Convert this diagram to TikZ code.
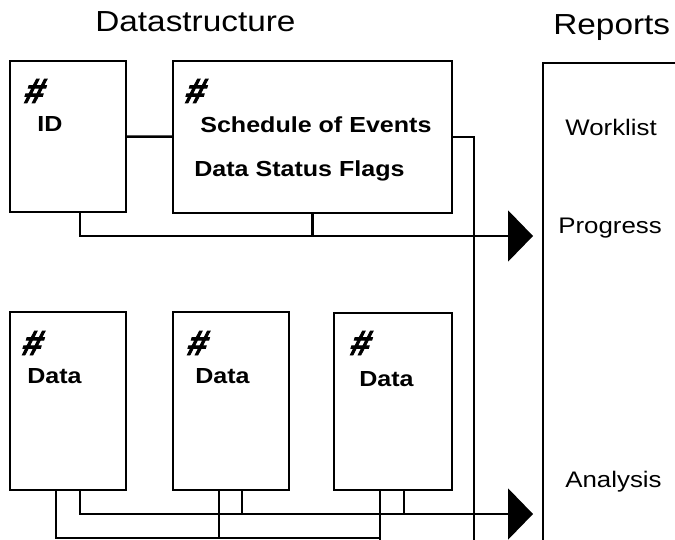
\documentclass[tikz,border=0pt]{standalone}
\usepackage{fontspec}
\setmainfont{Liberation Sans}
\newfontfamily\diagfont[FakeStretch=1.15]{Liberation Sans}
\newfontfamily\hashfont[FakeSlant=0.3,FakeBold=2.5]{Liberation Sans Bold}
\usepackage{tikz}
\usetikzlibrary{positioning,arrows.meta,calc}

\begin{document}
\begin{tikzpicture}[
  x=0.02cm, y=-0.02cm,
  font=\diagfont,
  box/.style={draw, line width=1.4pt, inner sep=0pt},
  hashmark/.style={anchor=base west, inner sep=0pt, font=\hashfont\fontsize{20}{20}\selectfont},
  boxtext/.style={anchor=base west, inner sep=0pt, font=\diagfont\fontsize{12.4}{14}\selectfont\bfseries},
  reporttext/.style={anchor=base west, inner sep=0pt, font=\diagfont\fontsize{12.8}{14}\selectfont},
  title/.style={anchor=base west, inner sep=0pt, font=\diagfont\fontsize{16.5}{18}\selectfont},
  link/.style={line width=1.4pt},
  feed/.style={line width=1.4pt, -{Triangle[length=0.5cm,width=1.02cm]}},
]
\useasboundingbox (0,0) rectangle (675,540);

% Headings
\node[title] (dstitle) at (95,32) {Datastructure};
\node[title] (reptitle) at (553,35) {Reports};

% Upper boxes
\node[box, minimum width=2.32cm, minimum height=3.02cm] (id) at (68,136.5) {};
\node[box, minimum width=5.58cm, minimum height=3.04cm] (sched) at (312.5,137) {};
\node[hashmark] (idhash) at (22,103) {\#};
\node[boxtext] (idtext) at (37,132) {ID};
\node[hashmark] (schedhash) at (183,103) {\#};
\node[boxtext] (schedtext) at (200,133) {Schedule of Events};
\node[boxtext] (flagtext) at (194,177) {Data Status Flags};

% Lower data boxes
\node[box, minimum width=2.32cm, minimum height=3.56cm] (d1) at (68,401) {};
\node[box, minimum width=2.32cm, minimum height=3.56cm] (d2) at (231,401) {};
\node[box, minimum width=2.36cm, minimum height=3.54cm] (d3) at (393,401.5) {};
\node[hashmark] (d1hash) at (20,355) {\#};
\node[hashmark] (d2hash) at (185,355) {\#};
\node[hashmark] (d3hash) at (348,355) {\#};
\node[boxtext] (d1text) at (27,383) {Data};
\node[boxtext] (d2text) at (195,383) {Data};
\node[boxtext] (d3text) at (359,386) {Data};

% Reports column
\coordinate (repcorner) at (543,63);
\coordinate (repright) at (675,63);
\coordinate (repfoot) at (543,540);
\draw[line width=0.9pt] (repright) -- (repcorner) -- (repfoot);
\node[reporttext] (worklist) at (565,136) {Worklist};
\node[reporttext] (progress) at (558,234) {Progress};
\node[reporttext] (analysis) at (565,487) {Analysis};

% Arrow tips and line ends
\coordinate (progtip) at (533,236);
\coordinate (anatip) at (533,514);
\coordinate (busend) at (474,540);
\coordinate (bottom) at (0,538);

% Upper connections
\draw[link] (id) -- (sched);
\draw[feed] ($(id.south)+(12,0)$) |- (progtip);
\draw[link] (sched.south) -- (sched.south |- progtip);
\draw[link] (sched.east) -| (busend);

% Lower connections
\draw[feed] ($(d1.south)+(12,0)$) |- (anatip);
\draw[link] ($(d2.south)+(11,0)$) coordinate (t2) -- (t2 |- anatip);
\draw[link] ($(d3.south)+(11,0)$) coordinate (t3) -- (t3 |- anatip);
\draw[link] ($(d1.south)+(-12,0)$) coordinate (b1) -- (b1 |- bottom) -| ($(d3.south)+(-13,0)$);
\draw[link] ($(d2.south)+(-12,0)$) coordinate (b2) -- (b2 |- bottom);
\draw[link] ($(d3.south)+(-13,0)$) coordinate (b3) -- (b3 |- busend);

\end{tikzpicture}
\end{document}
